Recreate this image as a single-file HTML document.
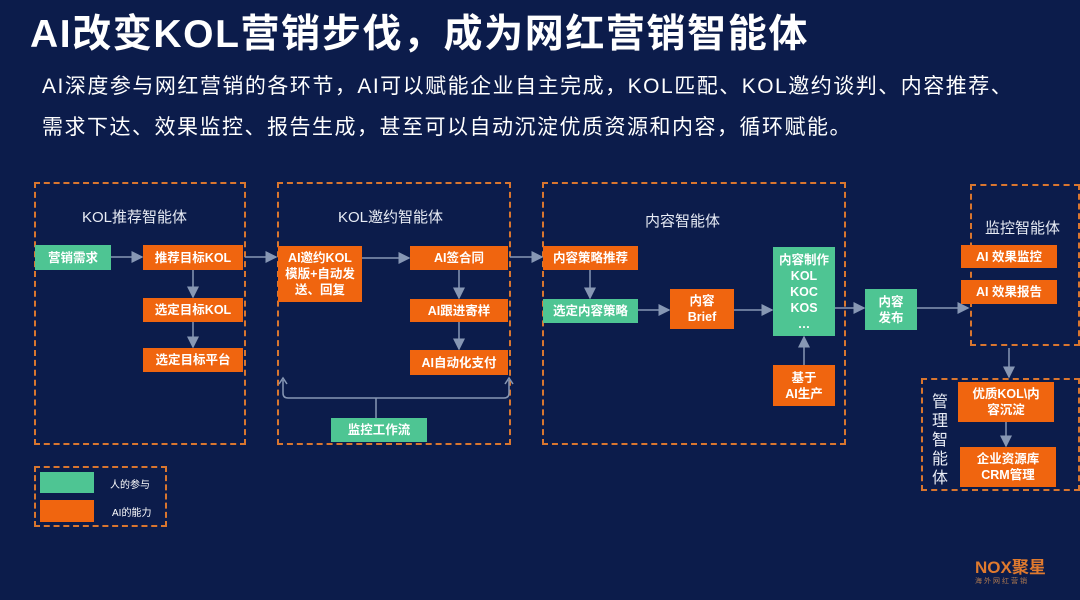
<!DOCTYPE html>
<html><head><meta charset="utf-8"><style>
*{margin:0;padding:0;box-sizing:border-box}
body{width:1080px;height:600px;background:#0c1c4b;position:relative;overflow:hidden;font-family:"Liberation Sans","Noto Sans CJK SC",sans-serif;color:#fff}
.a{position:absolute}
.box{position:absolute;border:2px dashed #d9762f}
.n{position:absolute;display:flex;align-items:center;justify-content:center;text-align:center;font-size:12.5px;font-weight:bold;line-height:16px;color:#fff}
.o{background:#f0650f}
.g{background:#4ec593}
.t{position:absolute;font-size:15px;color:#e8ecf5;white-space:nowrap}
</style></head><body>
<div class="a" style="left:30px;top:3px;font-size:39px;font-weight:bold;white-space:nowrap;letter-spacing:1.6px">AI改变KOL营销步伐，成为网红营销智能体</div>
<div class="a" style="left:42px;top:70px;font-size:21px;white-space:nowrap;letter-spacing:1.5px">AI深度参与网红营销的各环节，AI可以赋能企业自主完成，KOL匹配、KOL邀约谈判、内容推荐、</div>
<div class="a" style="left:42px;top:111px;font-size:21px;white-space:nowrap;letter-spacing:1.5px">需求下达、效果监控、报告生成，甚至可以自动沉淀优质资源和内容，循环赋能。</div>

<div class="box" style="left:34px;top:182px;width:212px;height:263px"></div>
<div class="box" style="left:277px;top:182px;width:234px;height:263px"></div>
<div class="box" style="left:542px;top:182px;width:304px;height:263px"></div>
<div class="box" style="left:970px;top:184px;width:110px;height:162px"></div>
<div class="box" style="left:921px;top:378px;width:159px;height:113px"></div>
<div class="box" style="left:34px;top:466px;width:133px;height:61px"></div>

<div class="t" style="left:82px;top:206px">KOL推荐智能体</div>
<div class="t" style="left:338px;top:206px">KOL邀约智能体</div>
<div class="t" style="left:645px;top:210px">内容智能体</div>
<div class="t" style="left:985px;top:217px">监控智能体</div>
<div class="t" style="left:932px;top:393px;width:18px;white-space:normal;line-height:19px;font-size:16px">管理智能体</div>

<svg class="a" style="left:0;top:0" width="1080" height="600">
<defs><marker id="m" markerWidth="8" markerHeight="8" refX="7" refY="4" orient="auto"><path d="M0,0L8,4L0,8z" fill="#8797b4"/></marker></defs>
<g stroke="#8797b4" stroke-width="1.5" fill="none" marker-end="url(#m)">
<line x1="111" y1="257" x2="142" y2="257"/>
<line x1="193" y1="270" x2="193" y2="297"/>
<line x1="193" y1="322" x2="193" y2="347"/>
<line x1="245" y1="257" x2="276" y2="257"/>
<line x1="362" y1="258" x2="409" y2="258"/>
<line x1="459" y1="270" x2="459" y2="298"/>
<line x1="459" y1="322" x2="459" y2="349"/>
<line x1="510" y1="257" x2="542" y2="257"/>
<line x1="590" y1="270" x2="590" y2="298"/>
<line x1="638" y1="310" x2="669" y2="310"/>
<line x1="734" y1="310" x2="772" y2="310"/>
<line x1="804" y1="365" x2="804" y2="337"/>
<line x1="835" y1="308" x2="864" y2="308"/>
<line x1="917" y1="308" x2="968" y2="308"/>
<line x1="1009" y1="348" x2="1009" y2="377"/>
<line x1="1006" y1="422" x2="1006" y2="446"/>
</g>
<g stroke="#8797b4" stroke-width="1.5" fill="none">
<path d="M283,380 L283,393 Q283,398 288,398 L504,398 Q509,398 509,393 L509,380"/>
<line x1="376" y1="398" x2="376" y2="418"/>
<path d="M279,384 L283,378 L287,384 M505,384 L509,378 L513,384"/>
</g>
</svg>

<div class="n g" style="left:35px;top:245px;width:76px;height:25px">营销需求</div>
<div class="n o" style="left:143px;top:245px;width:100px;height:25px">推荐目标KOL</div>
<div class="n o" style="left:143px;top:298px;width:100px;height:24px">选定目标KOL</div>
<div class="n o" style="left:143px;top:348px;width:100px;height:24px">选定目标平台</div>

<div class="n o" style="left:278px;top:246px;width:84px;height:56px">AI邀约KOL<br>模版+自动发<br>送、回复</div>
<div class="n o" style="left:410px;top:246px;width:98px;height:24px">AI签合同</div>
<div class="n o" style="left:410px;top:299px;width:98px;height:23px">AI跟进寄样</div>
<div class="n o" style="left:410px;top:350px;width:98px;height:25px">AI自动化支付</div>
<div class="n g" style="left:331px;top:418px;width:96px;height:24px">监控工作流</div>

<div class="n o" style="left:543px;top:246px;width:95px;height:24px">内容策略推荐</div>
<div class="n g" style="left:543px;top:299px;width:95px;height:24px">选定内容策略</div>
<div class="n o" style="left:670px;top:289px;width:64px;height:40px">内容<br>Brief</div>
<div class="n g" style="left:773px;top:247px;width:62px;height:89px">内容制作<br>KOL<br>KOC<br>KOS<br>…</div>
<div class="n o" style="left:773px;top:365px;width:62px;height:41px">基于<br>AI生产</div>
<div class="n g" style="left:865px;top:289px;width:52px;height:41px">内容<br>发布</div>

<div class="n o" style="left:961px;top:245px;width:96px;height:23px">AI 效果监控</div>
<div class="n o" style="left:961px;top:280px;width:96px;height:24px">AI 效果报告</div>
<div class="n o" style="left:958px;top:382px;width:96px;height:40px">优质KOL\内<br>容沉淀</div>
<div class="n o" style="left:960px;top:447px;width:96px;height:40px">企业资源库<br>CRM管理</div>

<div class="a g" style="left:40px;top:472px;width:54px;height:21px"></div>
<div class="a o" style="left:40px;top:500px;width:54px;height:22px"></div>
<div class="a" style="left:110px;top:476px;font-size:10px">人的参与</div>
<div class="a" style="left:112px;top:504px;font-size:10px">AI的能力</div>

<div class="a" style="left:975px;top:553px;font-size:17px;font-weight:bold;color:#e07a2e;white-space:nowrap">NOX聚星</div>
<div class="a" style="left:975px;top:576px;font-size:7px;color:#b07a50;letter-spacing:2px;white-space:nowrap">海外网红营销</div>
</body></html>
